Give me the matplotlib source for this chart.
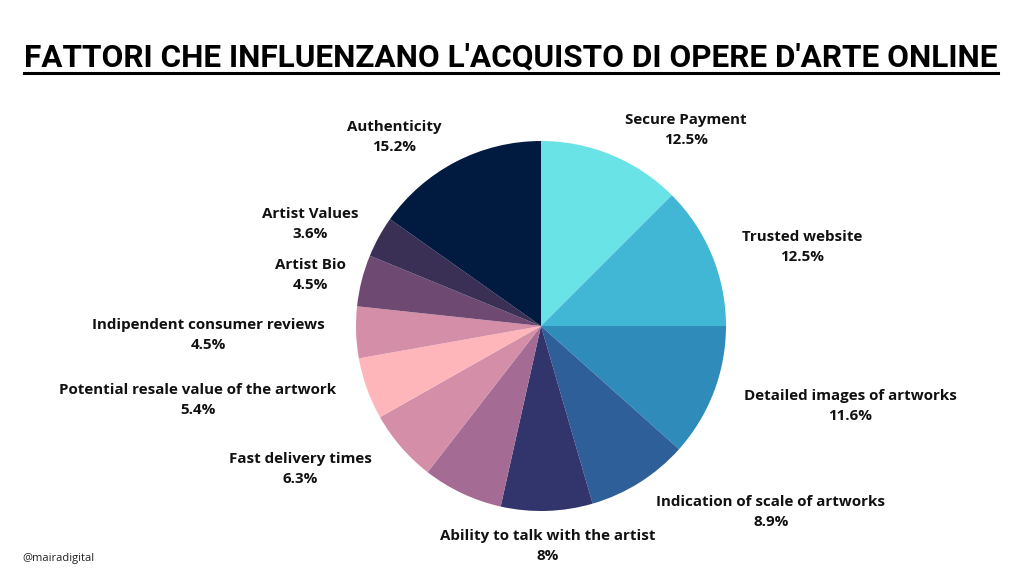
import matplotlib.pyplot as plt

# dati (in senso orario partendo dall'alto)
fattori = ['Secure Payment', 'Trusted website', 'Detailed images of artworks',
           'Indication of scale of artworks', 'Ability to talk with the artist', '',
           'Fast delivery times', 'Potential resale value of the artwork',
           'Indipendent consumer reviews', 'Artist Bio', 'Artist Values', 'Authenticity']
percentuali = [12.5, 12.5, 11.6, 8.9, 8.0, 7.0, 6.3, 5.4, 4.5, 4.5, 3.6, 15.2]
etichette_pct = ['12.5%', '12.5%', '11.6%', '8.9%', '8%', '', '6.3%', '5.4%',
                 '4.5%', '4.5%', '3.6%', '15.2%']
colori = ['#69e3e6', '#42b6d5', '#2e8bba', '#2f5f99', '#32346c', '#a46b94',
          '#d48ea8', '#ffb6bb', '#d48ea8', '#6e4a73', '#3a2f55', '#011a3f']

# posizione delle etichette (pixel, centro del testo)
pos_etichette = [(686, 120), (802, 237), (850, 396), (771, 502), (548, 536), None,
                 (300, 459), (198, 390), (208, 325), (310, 265), (310, 214), (394, 127)]

W, H = 1024, 576
fig = plt.figure(figsize=(W / 100, H / 100), dpi=100)
fig.patch.set_facecolor('white')

cx, cy, r = 541, 326, 185
ax = fig.add_axes([(cx - r) / W, (H - cy - r) / H, 2 * r / W, 2 * r / H])
ax.pie(percentuali, colors=colori, startangle=90, counterclock=False,
       wedgeprops=dict(linewidth=0))
ax.set_xlim(-1, 1)
ax.set_ylim(-1, 1)
ax.set_aspect('auto')
ax.axis('off')

for nome, pct, pos in zip(fattori, etichette_pct, pos_etichette):
    if pos is None:
        continue
    x, y = pos
    fig.text(x / W, 1 - y / H, nome, ha='center', va='center', fontsize=10.9,
             fontweight='bold', family='Open Sans', color='#111111')
    fig.text(x / W, 1 - (y + 20) / H, pct, ha='center', va='center', fontsize=10.9,
             fontweight='bold', family='Open Sans', color='#111111')

# titolo sottolineato, dimensionato per occupare ~973 px
titolo = fig.text(511 / W, 1 - 57 / H, "FATTORI CHE INFLUENZANO L'ACQUISTO DI OPERE D'ARTE ONLINE",
                  ha='center', va='center', fontsize=24, fontweight='bold',
                  family='Roboto', color='black')
fig.canvas.draw()
larg = titolo.get_window_extent().width
titolo.set_fontsize(24 * 973 / larg)
fig.canvas.draw()
bb = titolo.get_window_extent().transformed(fig.transFigure.inverted())
fig.add_artist(plt.Line2D([bb.x0, bb.x1], [1 - 73 / H, 1 - 73 / H],
                          transform=fig.transFigure, color='black', linewidth=2.2))

fig.text(22 / W, 1 - 558 / H, '@mairadigital', ha='left', va='center',
         fontsize=8, family='Open Sans', color='#222222')

plt.savefig('out.png', dpi=100)
plt.close()
